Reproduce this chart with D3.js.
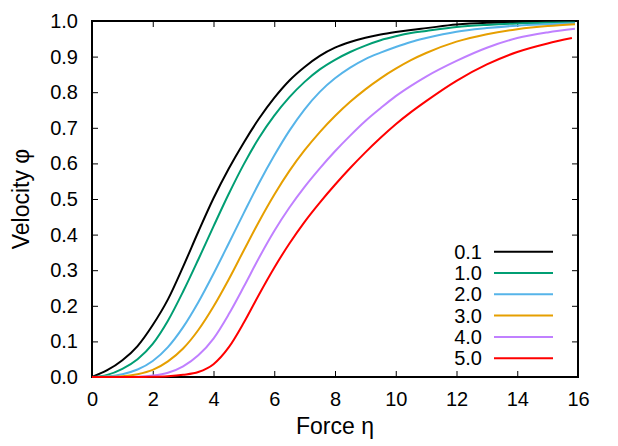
<!DOCTYPE html>
<html><head><meta charset="utf-8">
<script src="https://cdn.jsdelivr.net/npm/d3@7"></script>
<style>
html,body{margin:0;padding:0;background:#fff;}
svg text{font-family:"Liberation Sans",Arial,Helvetica,sans-serif;fill:#000;}
</style></head>
<body>
<svg id="chart" width="618" height="446"></svg>
<script>
const seriesNames = ["0.1","1.0","2.0","3.0","4.0","5.0"];
const seriesColors = ["#000000","#009e73","#56b4e9","#e69f00","#c080ff","#ff0000"];
const xTicks = [0,2,4,6,8,10,12,14,16];
const yTicks = [0,0.1,0.2,0.3,0.4,0.5,0.6,0.7,0.8,0.9,1.0];

// [force eta, velocity phi]
const s01 = [[0,0],[0.5,0.019],[1.0,0.047],[1.5,0.087],[2.0,0.146],[2.5,0.218],[3.0,0.31],[3.5,0.408],[4.0,0.502],[4.5,0.585],[5.0,0.659],[5.5,0.726],[6.0,0.784],[6.5,0.833],[7.0,0.871],[7.5,0.902],[8.0,0.925],[8.5,0.941],[9.0,0.953],[9.5,0.962],[10.0,0.969],[10.5,0.975],[11.0,0.980],[12.0,0.990],[13.0,0.995],[14.0,0.997],[15.0,0.998],[15.9,0.999]];
const s10 = [[0,0],[0.5,0.006],[1.0,0.023],[1.5,0.05],[2.0,0.093],[2.5,0.158],[3.0,0.240],[3.5,0.330],[4.0,0.423],[4.5,0.514],[5.0,0.598],[5.5,0.672],[6.0,0.734],[6.5,0.786],[7.0,0.829],[7.5,0.864],[8.0,0.891],[8.5,0.913],[9.0,0.931],[9.5,0.946],[10.0,0.957],[10.5,0.966],[11.0,0.972],[12.0,0.983],[13.0,0.989],[14.0,0.993],[15.0,0.995],[15.9,0.996]];
const s20 = [[0,0],[0.5,0.002],[1.0,0.008],[1.5,0.021],[2.0,0.045],[2.5,0.084],[3.0,0.140],[3.5,0.210],[4.0,0.290],[4.5,0.375],[5.0,0.461],[5.5,0.545],[6.0,0.622],[6.5,0.692],[7.0,0.752],[7.5,0.801],[8.0,0.839],[8.5,0.869],[9.0,0.893],[9.5,0.911],[10.0,0.927],[10.5,0.941],[11.0,0.952],[12.0,0.970],[13.0,0.980],[14.0,0.987],[15.0,0.991],[15.9,0.994]];
const s30 = [[0,0],[0.5,0.0005],[1.0,0.002],[1.5,0.008],[2.0,0.02],[2.5,0.044],[3.0,0.08],[3.5,0.132],[4.0,0.198],[4.5,0.274],[5.0,0.356],[5.5,0.437],[6.0,0.512],[6.5,0.579],[7.0,0.637],[7.5,0.688],[8.0,0.733],[8.5,0.773],[9.0,0.808],[9.5,0.839],[10.0,0.866],[10.5,0.890],[11.0,0.910],[12.0,0.942],[13.0,0.963],[14.0,0.977],[15.0,0.986],[15.9,0.991]];
const s40 = [[0,0],[1.0,0.0003],[1.5,0.001],[2.0,0.004],[2.5,0.012],[3.0,0.03],[3.5,0.061],[4.0,0.108],[4.5,0.176],[5.0,0.254],[5.5,0.335],[6.0,0.410],[6.5,0.476],[7.0,0.534],[7.5,0.586],[8.0,0.634],[8.5,0.678],[9.0,0.719],[9.5,0.755],[10.0,0.789],[10.5,0.818],[11.0,0.844],[12.0,0.888],[13.0,0.925],[14.0,0.952],[15.0,0.968],[15.9,0.978]];
const s50 = [[0,0],[1.5,0.0001],[2.0,0.0005],[2.5,0.002],[3.0,0.006],[3.5,0.014],[4.0,0.036],[4.5,0.083],[5.0,0.153],[5.5,0.232],[6.0,0.307],[6.5,0.375],[7.0,0.436],[7.5,0.49],[8.0,0.54],[8.5,0.587],[9.0,0.631],[9.5,0.672],[10.0,0.71],[10.5,0.744],[11.0,0.775],[12.0,0.832],[13.0,0.878],[14.0,0.913],[15.0,0.937],[15.8,0.952]];
const seriesData = [s01,s10,s20,s30,s40,s50];

const svg = d3.select("#chart");
const L = 92, R = 578, T = 21, B = 377;
const x = d3.scaleLinear().domain([0,16]).range([L,R]);
const y = d3.scaleLinear().domain([0,1]).range([B,T]);
const tickLen = 6;
const fs = "20px";

const gx = svg.append("g").attr("transform",`translate(0,${B})`)
  .call(d3.axisBottom(x).tickValues(xTicks).tickFormat(d3.format("d")).tickSize(-tickLen).tickPadding(15));
const gxt = svg.append("g").attr("transform",`translate(0,${T})`)
  .call(d3.axisTop(x).tickValues(xTicks).tickSize(-tickLen).tickFormat(""));
const gy = svg.append("g").attr("transform",`translate(${L},0)`)
  .call(d3.axisLeft(y).tickValues(yTicks).tickFormat(d3.format(".1f")).tickSize(-tickLen).tickPadding(14));
const gyr = svg.append("g").attr("transform",`translate(${R},0)`)
  .call(d3.axisRight(y).tickValues(yTicks).tickSize(-tickLen).tickFormat(""));
[gx,gxt,gy,gyr].forEach(g=>{
  g.select(".domain").remove();
  g.selectAll(".tick line").attr("stroke","#000").attr("stroke-width",1);
  g.selectAll("text").attr("font-size",fs).attr("fill","#000");
});
svg.append("rect").attr("x",L).attr("y",T).attr("width",R-L).attr("height",B-T)
  .attr("fill","none").attr("stroke","#000").attr("stroke-width",2);

const line = d3.line().x(d=>x(d[0])).y(d=>y(d[1])).curve(d3.curveMonotoneX);
seriesData.forEach((s,i)=>{
  svg.append("path").datum(s).attr("d",line).attr("fill","none")
    .attr("stroke",seriesColors[i]).attr("stroke-width",2).attr("stroke-linejoin","round");
});

const legY0 = 251.7, legDy = 21.3;
seriesNames.forEach((n,i)=>{
  const yy = legY0 + i*legDy;
  svg.append("text").attr("x",482).attr("y",yy).attr("dy","0.35em")
    .attr("text-anchor","end").attr("font-size",fs).text(n);
  svg.append("line").attr("x1",494).attr("x2",553).attr("y1",yy).attr("y2",yy)
    .attr("stroke",seriesColors[i]).attr("stroke-width",2);
});

svg.append("text").attr("x",(L+R)/2).attr("y",434).attr("text-anchor","middle")
  .attr("font-size","23px").text("Force η");
svg.append("text").attr("transform",`translate(29,${(T+B)/2}) rotate(-90)`)
  .attr("text-anchor","middle").attr("font-size","23px").text("Velocity φ");
</script>
</body></html>
